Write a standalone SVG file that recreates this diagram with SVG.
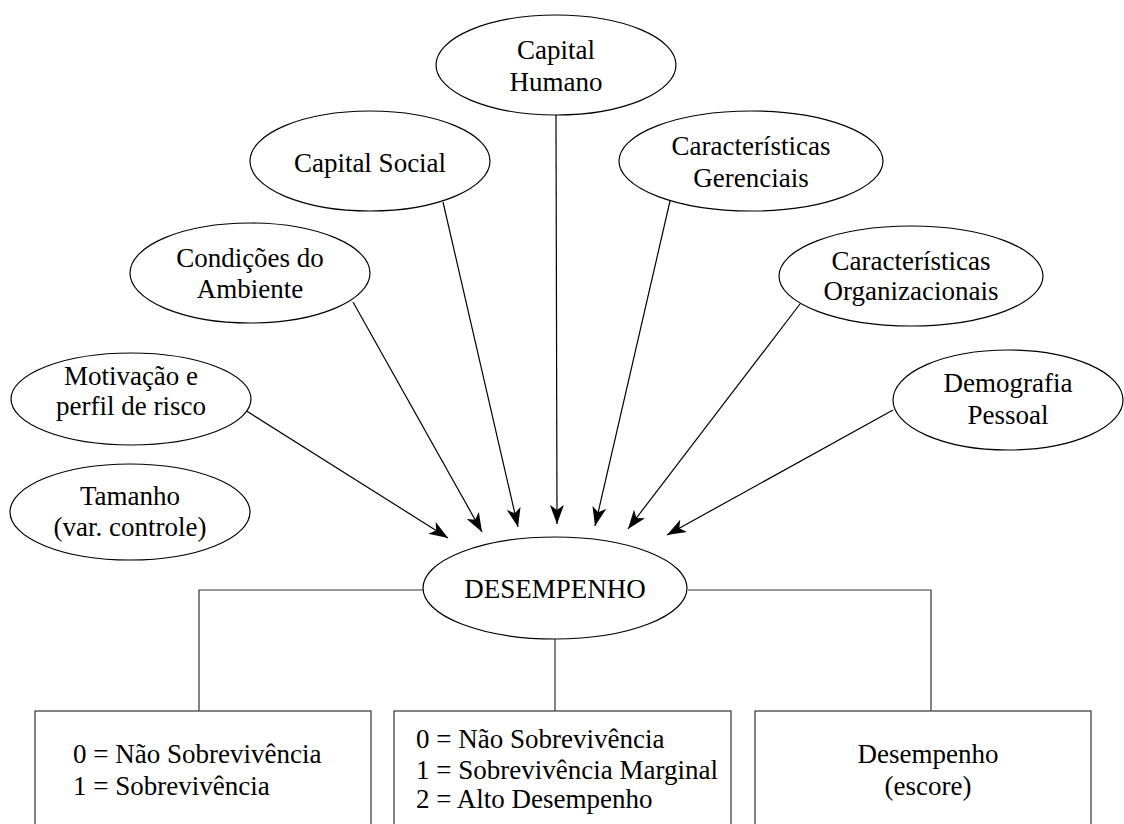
<svg xmlns="http://www.w3.org/2000/svg" width="1124" height="824" viewBox="0 0 1124 824">
  <style>
    .node ellipse { fill: #ffffff; stroke: #000000; stroke-width: 1.2; }
    .box rect { fill: #ffffff; stroke: #333333; stroke-width: 1.2; }
    text { font-family: "Liberation Serif", "Times New Roman", serif; font-size: 27px; fill: #000000; }
    .c { text-anchor: middle; }
    .arrow { stroke: #000000; stroke-width: 1.2; fill: none; marker-end: url(#head); }
    .link { stroke: #333333; stroke-width: 1.2; fill: none; }
  </style>
  <defs>
    <marker id="head" markerUnits="userSpaceOnUse" markerWidth="20" markerHeight="14" viewBox="0 0 20 14" refX="19" refY="7" orient="auto">
      <path d="M0,0 L19,7 L0,14 L5,7 Z" fill="#000000"/>
    </marker>
  </defs>

  <rect x="0" y="0" width="1124" height="824" fill="#ffffff"/>

  <!-- connectors -->
  <g id="connectors">
    <line class="arrow" x1="245" y1="410" x2="448" y2="538"/>
    <line class="arrow" x1="353" y1="302" x2="482" y2="532"/>
    <line class="arrow" x1="443" y1="202" x2="518" y2="527"/>
    <line class="arrow" x1="556" y1="115" x2="557" y2="524"/>
    <line class="arrow" x1="670" y1="201" x2="595" y2="526"/>
    <line class="arrow" x1="800" y1="304" x2="628" y2="529"/>
    <line class="arrow" x1="893" y1="410" x2="667" y2="535"/>
    <polyline class="link" points="423,590 199,590 199,711"/>
    <polyline class="link" points="688,590 931,590 931,711"/>
    <line class="link" x1="555" y1="639" x2="555" y2="711"/>
  </g>

  <g id="capital-humano" class="node">
    <ellipse cx="556" cy="65" rx="120" ry="50"/>
    <text class="c" x="556" y="59">Capital</text>
    <text class="c" x="556" y="91">Humano</text>
  </g>

  <g id="capital-social" class="node">
    <ellipse cx="370" cy="161" rx="120" ry="50"/>
    <text class="c" x="370" y="172">Capital Social</text>
  </g>

  <g id="caracteristicas-gerenciais" class="node">
    <ellipse cx="751" cy="161" rx="132" ry="50"/>
    <text class="c" x="751" y="155">Características</text>
    <text class="c" x="751" y="187">Gerenciais</text>
  </g>

  <g id="condicoes-ambiente" class="node">
    <ellipse cx="250" cy="273" rx="120" ry="50"/>
    <text class="c" x="250" y="267">Condições do</text>
    <text class="c" x="250" y="298">Ambiente</text>
  </g>

  <g id="caracteristicas-organizacionais" class="node">
    <ellipse cx="911" cy="276" rx="132" ry="50"/>
    <text class="c" x="911" y="270">Características</text>
    <text class="c" x="911" y="300">Organizacionais</text>
  </g>

  <g id="motivacao" class="node">
    <ellipse cx="131" cy="399" rx="120" ry="46"/>
    <text class="c" x="131" y="385">Motivação e</text>
    <text class="c" x="131" y="415">perfil de risco</text>
  </g>

  <g id="demografia" class="node">
    <ellipse cx="1008" cy="400" rx="115" ry="50"/>
    <text class="c" x="1008" y="392">Demografia</text>
    <text class="c" x="1008" y="424">Pessoal</text>
  </g>

  <g id="tamanho" class="node">
    <ellipse cx="130" cy="512" rx="120" ry="48"/>
    <text class="c" x="130" y="505">Tamanho</text>
    <text class="c" x="130" y="536">(var. controle)</text>
  </g>

  <g id="desempenho" class="node">
    <ellipse cx="555" cy="588" rx="132" ry="51"/>
    <text class="c" x="555" y="598">DESEMPENHO</text>
  </g>

  <g id="box-sobrevivencia" class="box">
    <rect x="35" y="711" width="336" height="130"/>
    <text x="73" y="763">0 = Não Sobrevivência</text>
    <text x="73" y="795">1 = Sobrevivência</text>
  </g>

  <g id="box-ordinal" class="box">
    <rect x="394" y="711" width="337" height="130"/>
    <text x="416" y="748">0 = Não Sobrevivência</text>
    <text x="416" y="779">1 = Sobrevivência Marginal</text>
    <text x="416" y="808">2 = Alto Desempenho</text>
  </g>

  <g id="box-escore" class="box">
    <rect x="755" y="711" width="336" height="130"/>
    <text class="c" x="928" y="763">Desempenho</text>
    <text class="c" x="928" y="795">(escore)</text>
  </g>
</svg>
